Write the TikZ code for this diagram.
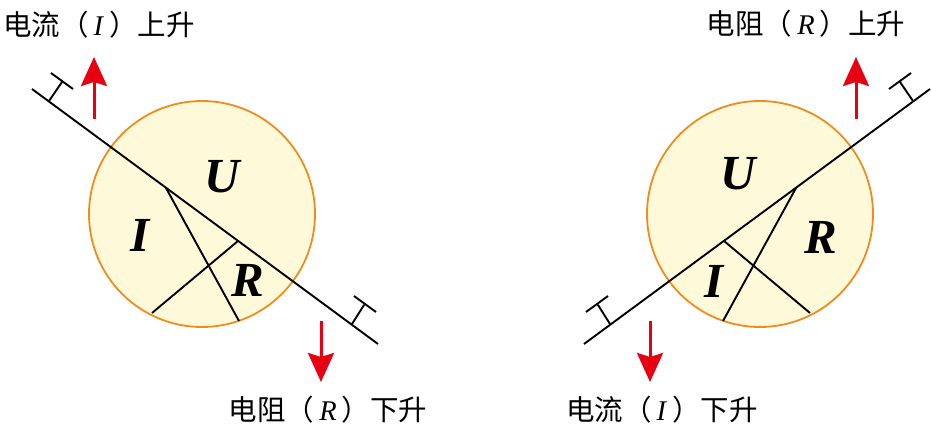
\documentclass[tikz,border=0pt]{standalone}
\usepackage{fontspec}
\setmainfont{Liberation Serif}
\newfontfamily\cjk{Noto Sans CJK SC}
\usetikzlibrary{arrows.meta}

\definecolor{ballfill}{HTML}{FEF9D8}
\definecolor{ballline}{HTML}{F08C1E}
\definecolor{upred}{HTML}{E60012}

\newcommand{\qty}[1]{\kern5pt\textit{#1}\kern5pt}

\tikzset{
  ball/.style = {draw=ballline, fill=ballfill, circle, line width=1.8pt, inner sep=0pt, minimum size=226pt},
  rod/.style = {line width=1.9pt, black},
  var/.style = {font=\fontsize{49}{49}\selectfont\bfseries\itshape, inner sep=0pt},
  caption/.style = {font=\fontsize{28.5}{30}\selectfont, inner sep=0pt},
  move/.style = {line width=3pt, upred, -{Stealth[length=29pt, width=26pt, inset=4pt]}}
}

\begin{document}
\begin{tikzpicture}[x=1pt, y=-1pt]
\useasboundingbox (0,0) rectangle (931,431);

% left wheel
\node[ball] (c1) at (202,214) {};
\coordinate (a1) at (32,89);
\coordinate (b1) at (378,344);
\coordinate (p1) at (166,188);
\coordinate (q1) at (239,321);
\coordinate (s1) at (238,241);
\coordinate (t1) at (152,313);
\draw[rod] (a1) -- (b1);
\draw[rod] (p1) -- (q1);
\draw[rod] (s1) -- (t1);
% stops
\coordinate (k1) at (49,101);  \coordinate (k2) at (62,82);
\coordinate (k3) at (51,73);   \coordinate (k4) at (73,89);
\coordinate (k5) at (352,324); \coordinate (k6) at (364,305);
\coordinate (k7) at (354,296); \coordinate (k8) at (376,312);
\draw[rod] (k1) -- (k2) (k3) -- (k4) (k5) -- (k6) (k7) -- (k8);
\node[var] (u1) at (222,177) {U};
\node[var] (i1) at (140,235) {I};
\node[var] (r1) at (248,280) {R};
% arrows
\coordinate (m1) at (94,119); \coordinate (m2) at (94,57);
\coordinate (n1) at (321,321); \coordinate (n2) at (321,382);
\draw[move] (m1) -- (m2);
\draw[move] (n1) -- (n2);
\node[caption] (l1) at (99,25) {{\cjk 电流（}\qty{I}{\cjk ）上升}};
\node[caption] (l2) at (328,410) {{\cjk 电阻（}\qty{R}{\cjk ）下升}};

% right wheel
\node[ball] (c2) at (760,214) {};
\coordinate (a2) at (930,89);
\coordinate (b2) at (584,344);
\coordinate (p2) at (796,188);
\coordinate (q2) at (723,321);
\coordinate (s2) at (724,241);
\coordinate (t2) at (810,313);
\draw[rod] (a2) -- (b2);
\draw[rod] (p2) -- (q2);
\draw[rod] (s2) -- (t2);
% stops
\coordinate (h1) at (913,101); \coordinate (h2) at (900,82);
\coordinate (h3) at (911,73);  \coordinate (h4) at (889,89);
\coordinate (h5) at (610,324); \coordinate (h6) at (598,305);
\coordinate (h7) at (608,296); \coordinate (h8) at (586,312);
\draw[rod] (h1) -- (h2) (h3) -- (h4) (h5) -- (h6) (h7) -- (h8);
\node[var] (u2) at (738,174) {U};
\node[var] (i2) at (714,281) {I};
\node[var] (r2) at (821,237) {R};
% arrows
\coordinate (m3) at (856,119); \coordinate (m4) at (856,57);
\coordinate (n3) at (650,321); \coordinate (n4) at (650,382);
\draw[move] (m3) -- (m4);
\draw[move] (n3) -- (n4);
\node[caption] (l3) at (806,24) {{\cjk 电阻（}\qty{R}{\cjk ）上升}};
\node[caption] (l4) at (662,410) {{\cjk 电流（}\qty{I}{\cjk ）下升}};
\end{tikzpicture}
\end{document}
